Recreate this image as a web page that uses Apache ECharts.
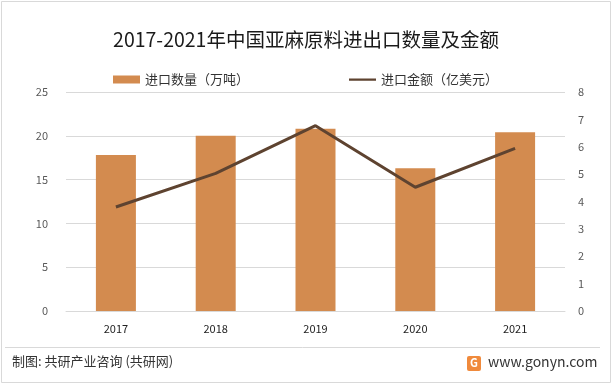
<!DOCTYPE html>
<html><head><meta charset="utf-8">
<script src="https://cdn.jsdelivr.net/npm/echarts@6/dist/echarts.min.js"></script>
<style>html,body{margin:0;padding:0;background:#fff}#c{width:612px;height:384px}</style>
</head><body><div id="c"></div>
<script>
const categories = ['2017','2018','2019','2020','2021'];
const quantity = [17.8, 20.0, 20.8, 16.3, 20.4];
const amount = [3.8, 5.03, 6.77, 4.52, 5.94];
const leftTicks = [0,5,10,15,20,25];
const rightTicks = [0,1,2,3,4,5,6,7,8];

const chart = echarts.init(document.getElementById('c'));
const font = '"Microsoft YaHei","Noto Sans CJK SC",sans-serif';
chart.setOption({
  animation: false,
  backgroundColor: '#fff',
  title: {
    text: '2017-2021年中国亚麻原料进出口数量及金额',
    left: 'center', top: 25,
    textStyle: {fontSize: 19.5, fontWeight: 'normal', color: '#1a1a1a', fontFamily: font}
  },
  legend: {
    top: 68, left: 108, itemGap: 100, itemWidth: 27, itemHeight: 8,
    textStyle: {fontSize: 13, color: '#333', fontFamily: font},
    data: [
      {name: '进口数量（万吨）', icon: 'rect'},
      {name: '进口金额（亿美元）', icon: 'path://M0,0L0.01,0L0.01,0.01L0,0.01ZM0,3L27,3L27,5.2L0,5.2ZM26.99,7.99L27,7.99L27,8L26.99,8Z'}
    ]
  },
  grid: {left: 66, right: 47, top: 92, bottom: 73},
  xAxis: {
    type: 'category', data: categories,
    axisLine: {lineStyle: {color: '#d9d9d9'}},
    axisTick: {show: false},
    axisLabel: {color: '#222', fontSize: 11, margin: 12, fontFamily: font}
  },
  yAxis: [{
    type: 'value', min: leftTicks[0], max: leftTicks[leftTicks.length-1], interval: 5,
    axisLine: {show: false}, axisTick: {show: false},
    splitLine: {lineStyle: {color: '#d9d9d9'}},
    axisLabel: {color: '#595959', fontSize: 11, margin: 18, fontFamily: font}
  }, {
    type: 'value', min: rightTicks[0], max: rightTicks[rightTicks.length-1], interval: 1,
    axisLine: {show: false}, axisTick: {show: false},
    splitLine: {show: false},
    axisLabel: {color: '#595959', fontSize: 11, margin: 13, fontFamily: font}
  }],
  series: [{
    name: '进口数量（万吨）', type: 'bar', data: quantity, barWidth: 40,
    itemStyle: {color: '#D38B4F'}
  }, {
    name: '进口金额（亿美元）', type: 'line', yAxisIndex: 1, data: amount,
    symbol: 'none', lineStyle: {color: '#5E4330', width: 3}, itemStyle: {color: '#5E4330'}
  }],
  graphic: [
    {type: 'rect', shape: {x: 1.5, y: 1.5, width: 609, height: 381}, style: {fill: 'none', stroke: '#d9d9d9', lineWidth: 1}, silent: true},
    {type: 'line', shape: {x1: 5, y1: 347.5, x2: 600, y2: 347.5}, style: {stroke: '#d9d9d9', lineWidth: 1}},
    {type: 'text', left: 12, top: 355, style: {text: '制图: 共研产业咨询 (共研网)', fontSize: 13, fill: '#333', fontFamily: font}},
    {type: 'rect', shape: {x: 467, y: 356, width: 14, height: 15, r: 2}, style: {fill: '#F08A3C'}},
    {type: 'text', left: 470, top: 357, style: {text: 'G', fontSize: 11, fontWeight: 'bold', fill: '#fff', fontFamily: font}},
    {type: 'text', left: 488, top: 355, style: {text: 'www.gonyn.com', fontSize: 14, fill: '#333', fontFamily: font}}
  ]
});
</script></body></html>
